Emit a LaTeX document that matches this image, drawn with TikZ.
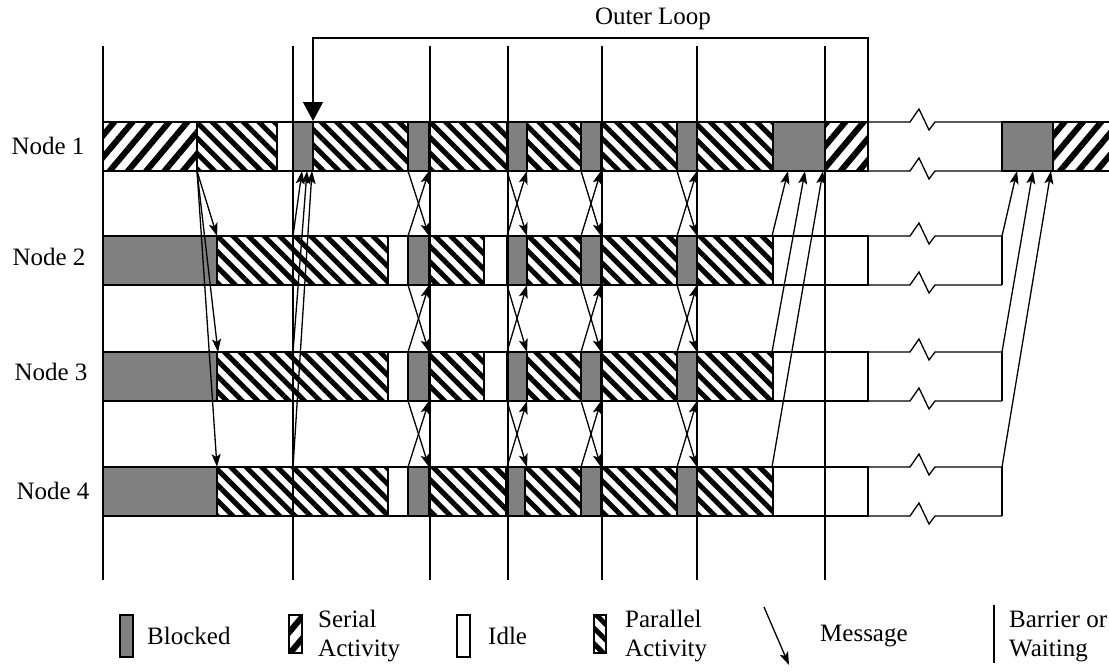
\documentclass[tikz,border=0pt]{standalone}
\usepackage{fontspec}
\setmainfont{Liberation Serif}
\usetikzlibrary{arrows.meta,patterns.meta}
\definecolor{blockgray}{RGB}{128,128,128}
\begin{document}
\begin{tikzpicture}[x=1pt,y=-1pt,
  seg/.style={draw=black,line width=1.3pt},
  blk/.style={seg,fill=blockgray},
  ser/.style={seg,pattern={Lines[angle=50,distance=14pt,line width=6pt]}},
  par/.style={seg,pattern={Lines[angle=-45,distance=11pt,line width=5pt]}},
  idl/.style={seg,fill=white},
  msg/.style={line width=1.3pt,-{Stealth[length=13pt,width=9pt,inset=3pt]}},
  barrier/.style={line width=1.3pt},
  lbl/.style={font=\fontsize{25}{29}\selectfont,inner sep=0pt},
]
\useasboundingbox (0,0) rectangle (1109,672);

% ---- Row 1 ----
\foreach \t/\a/\b in {ser/103/197, par/197/277, idl/277/293, blk/293/313, par/313/408,
  blk/408/429, par/429/507, blk/507/527, par/527/581, blk/581/601, par/601/677,
  blk/677/697, par/697/773, blk/773/825, ser/825/868, blk/1002/1053, ser/1053/1112}
  \draw[\t] (\a,122) rectangle (\b,171);

% ---- Rows 2 and 3 ----
\foreach \yt in {236,352}{
  \foreach \t/\a/\b in {blk/103/217, par/217/293, par/293/388, idl/388/408, blk/408/429,
    par/429/484, idl/484/507, blk/507/527, par/527/581, blk/581/601, par/601/677,
    blk/677/697, par/697/773, idl/773/868}
    \draw[\t] (\a,\yt) rectangle (\b,\yt+49);
}
% ---- Row 4 ----
\foreach \t/\a/\b in {blk/103/217, par/217/293, par/293/388, idl/388/408, blk/408/429,
  par/429/506, blk/506/525, par/525/581, blk/581/601, par/601/677,
  blk/677/697, par/697/773, idl/773/868}
  \draw[\t] (\a,467) rectangle (\b,516);

% ---- broken (time skip) parts ----
\foreach \y in {122,171,236,285,352,401,467,516}
  \draw[seg] (868,\y) -- (910,\y) -- (919,\y-13) -- (929,\y+8) -- (935,\y) -- (1002,\y);
\foreach \yt in {236,352,467}
  \draw[seg] (1002,\yt) -- (1002,\yt+49);

% ---- barriers ----
\foreach \x in {103,293,430,508,602,697,825}
  \draw[barrier] (\x,46) -- (\x,580);

% ---- outer loop ----
\coordinate (olA) at (868,122);
\coordinate (olB) at (868,38);
\coordinate (olC) at (313,38);
\coordinate (olD) at (313,121);
\draw[line width=1.3pt,-{Triangle[length=19pt,width=20pt]}] (olA) -- (olB) -- (olC) -- (olD);
\node[lbl] (outer) at (653,19) {Outer Loop};

% ---- node labels ----
\node[lbl] (lab1) at (48,146) {Node 1};
\node[lbl] (lab2) at (49,257) {Node 2};
\node[lbl] (lab3) at (51,372) {Node 3};
\node[lbl] (lab4) at (53,491) {Node 4};

% ---- messages ----
\coordinate (m0) at (197,171);
\coordinate (m2) at (217,236);
\coordinate (m3) at (218,352);
\coordinate (m4) at (217,467);
\draw[msg] (m0) -- (m2);
\draw[msg] (m0) -- (m3);
\draw[msg] (m0) -- (m4);

\coordinate (g2) at (293,236);
\coordinate (g3) at (293,352);
\coordinate (g4) at (293,467);
\coordinate (h2) at (302,171);
\coordinate (h3) at (307,171);
\coordinate (h4) at (312,171);
\draw[msg] (g2) -- (h2);
\draw[msg] (g3) -- (h3);
\draw[msg] (g4) -- (h4);

\foreach \xl/\xr in {408/429, 507/527, 581/601, 677/697}
  \foreach \yb/\yt in {171/236, 285/352, 401/467}{
    \coordinate (dA-\xl-\yb) at (\xl,\yb);
    \coordinate (dB-\xl-\yb) at (\xr,\yt);
    \coordinate (uA-\xl-\yb) at (\xl,\yt);
    \coordinate (uB-\xl-\yb) at (\xr,\yb);
    \draw[msg] (dA-\xl-\yb) -- (dB-\xl-\yb);
    \draw[msg] (uA-\xl-\yb) -- (uB-\xl-\yb);
  }

\coordinate (k2) at (772,236);
\coordinate (k3) at (772,352);
\coordinate (k4) at (772,467);
\coordinate (q2) at (788,171);
\coordinate (q3) at (805,171);
\coordinate (q4) at (823,171);
\draw[msg] (k2) -- (q2);
\draw[msg] (k3) -- (q3);
\draw[msg] (k4) -- (q4);

\coordinate (e2) at (1002,236);
\coordinate (e3) at (1002,352);
\coordinate (e4) at (1002,467);
\coordinate (f2) at (1017,171);
\coordinate (f3) at (1033,171);
\coordinate (f4) at (1051,171);
\draw[msg] (e2) -- (f2);
\draw[msg] (e3) -- (f3);
\draw[msg] (e4) -- (f4);

% ---- legend ----
\draw[blk] (120,615) rectangle (133,657);
\node[lbl,anchor=west] (lgB) at (147,636) {Blocked};
\draw[ser] (289,615) rectangle (302,653);
\node[lbl,anchor=west,align=left] (lgS) at (318,636) {Serial\\Activity};
\draw[idl] (457,615) rectangle (470,657);
\node[lbl,anchor=west] (lgI) at (488,636) {Idle};
\draw[par] (594,615) rectangle (606,653);
\node[lbl,anchor=west,align=left] (lgP) at (625,636) {Parallel\\Activity};
\coordinate (lmA) at (764,607);
\coordinate (lmB) at (789,665);
\draw[msg] (lmA) -- (lmB);
\node[lbl,anchor=west] (lgM) at (820,636) {Message};
\coordinate (lwA) at (994,605);
\coordinate (lwB) at (994,663);
\draw[barrier] (lwA) -- (lwB);
\node[lbl,anchor=west,align=left] (lgW) at (1009,636) {Barrier or\\Waiting};
\end{tikzpicture}
\end{document}
